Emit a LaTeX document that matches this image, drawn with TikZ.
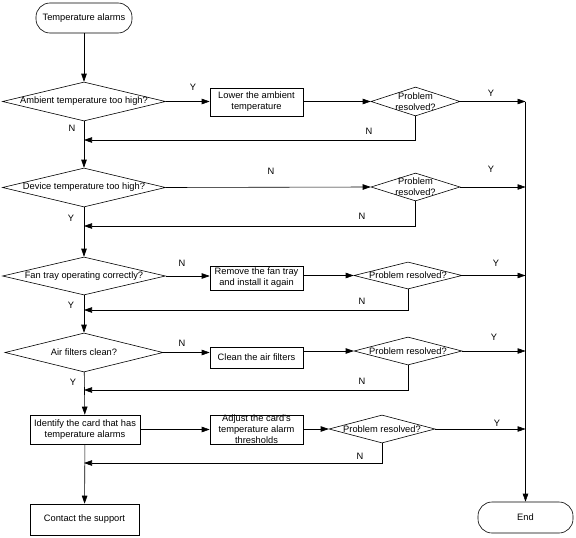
\documentclass[tikz,border=0pt]{standalone}
\usepackage{fontspec}
\setmainfont{Liberation Sans}
\usetikzlibrary{shapes.geometric,arrows.meta}
\newcommand{\zw}[1]{\makebox[0pt]{#1}}
\tikzset{
    box/.style={draw, rectangle, inner sep=1pt, align=center},
    term/.style={draw, rectangle, rounded corners=14pt},
    decide/.style={draw, diamond, inner sep=0pt, align=center},
    lbl/.style={inner sep=0pt},
}
\begin{document}
\begin{tikzpicture}[x=1pt, y=-1pt, line width=0.6pt,
        >={Triangle[length=8pt, width=5.5pt]},
        font=\fontsize{9.3}{11}\selectfont]
            \useasboundingbox (0, 0) rectangle (576, 538);
            % 左列
            \node (S) at (84, 18) [term, minimum width=96pt, minimum height=30pt] {Temperature alarms};
            \node (D1) at (84, 101.5) [decide, minimum width=163pt, minimum height=39pt] {\zw{Ambient temperature too high?}};
            \node (D2) at (84, 187.5) [decide, minimum width=163pt, minimum height=39pt] {\zw{Device temperature too high?}};
            \node (D3) at (84, 276) [decide, minimum width=163pt, minimum height=38pt] {\zw{Fan tray operating correctly?}};
            \node (D4) at (84, 352.5) [decide, minimum width=158pt, minimum height=39pt] {\zw{Air filters clean?}};
            \node (I) at (85, 429.5) [box, minimum width=110pt, minimum height=29pt] {Identify the card that has\\temperature alarms};
            \node (C) at (84.5, 519.5) [box, minimum width=109pt, minimum height=31pt] {Contact the support};
            % 中列
            \node (A1) at (256.5, 102) [box, minimum width=93pt, minimum height=28pt] {Lower the ambient\\temperature};
            \node (A3) at (256.5, 278) [box, minimum width=93pt, minimum height=24pt] {Remove the fan tray\\and install it again};
            \node (A4) at (256.5, 357.5) [box, minimum width=93pt, minimum height=21pt] {Clean the air filters};
            \node (A5) at (256.5, 429.5) [box, inner ysep=0pt, minimum width=93pt, minimum height=29pt] {Adjust the card's\\temperature alarm\\thresholds};
            % 右列
            \node (P1) at (415.5, 101.5) [decide, minimum width=89pt, minimum height=29pt] {\zw{Problem}\\\zw{resolved?}};
            \node (P2) at (415.5, 187) [decide, minimum width=89pt, minimum height=28pt] {\zw{Problem}\\\zw{resolved?}};
            \node (P3) at (408, 275.5) [decide, minimum width=108pt, minimum height=27pt] {\zw{Problem resolved?}};
            \node (P4) at (408, 351) [decide, minimum width=108pt, minimum height=28pt] {\zw{Problem resolved?}};
            \node (P5) at (382, 429) [decide, minimum width=106pt, minimum height=28pt] {\zw{Problem resolved?}};
            \node (E) at (525.5, 517.5) [term, minimum width=95pt, minimum height=31pt] {End};
            % 回到主线的点
            \coordinate (N1) at (84, 140);
            \coordinate (N2) at (84, 226);
            \coordinate (N3) at (84, 310);
            \coordinate (N4) at (84, 390);
            \coordinate (N5) at (84, 463);
            % 主线
            \draw[->] (S) -- (D1);
            \draw[->] (D1) -- (D2);
            \draw[->] (D2) -- (D3);
            \draw[->] (D3) -- (D4);
            \draw[->] (D4) -- (I);
            \draw[->] (I) -- (C);
            % 各行
            \draw[->] (D1.east) -- (A1.west |- D1.east);
            \draw[->] (A1.east |- P1.west) -- (P1.west);
            \draw[->] (D2.east) -- (P2.west);
            \draw[->] (D3.east) -- (A3.west |- D3.east);
            \draw[->] (A3.east |- P3.west) -- (P3.west);
            \draw[->] (D4.east) -- (A4.west |- D4.east);
            \draw[->] (A4.east |- P4.west) -- (P4.west);
            \draw[->] (I) -- (A5);
            \draw[->] (A5.east |- P5.west) -- (P5.west);
            % Y 到右侧
            \draw[->] (P1.east) -- (P1.east -| E.north);
            \draw[->] (P2.east) -- (P2.east -| E.north);
            \draw[->] (P3.east) -- (P3.east -| E.north);
            \draw[->] (P4.east) -- (P4.east -| E.north);
            \draw[->] (P5.east) -- (P5.east -| E.north);
            \draw[->] (P1.east -| E.north) -- (E.north);
            % N 回到主线
            \draw[->] (P1.south) |- (N1);
            \draw[->] (P2.south) |- (N2);
            \draw[->] (P3.south) |- (N3);
            \draw[->] (P4.south) |- (N4);
            \draw[->] (P5.south) |- (N5);
            % 标注
            \node (L1) at (193, 87) [lbl] {Y};
            \node (L2) at (72, 128) [lbl] {N};
            \node (L3) at (491, 93) [lbl] {Y};
            \node (L4) at (369, 131) [lbl] {N};
            \node (L5) at (271, 171) [lbl] {N};
            \node (L6) at (491, 169) [lbl] {Y};
            \node (L7) at (362, 216) [lbl] {N};
            \node (L8) at (71, 218) [lbl] {Y};
            \node (L9) at (182, 263) [lbl] {N};
            \node (L10) at (496, 263) [lbl] {Y};
            \node (L11) at (362, 301) [lbl] {N};
            \node (L12) at (71, 305) [lbl] {Y};
            \node (L13) at (182, 343) [lbl] {N};
            \node (L14) at (494, 337) [lbl] {Y};
            \node (L15) at (362, 381) [lbl] {N};
            \node (L16) at (73, 382) [lbl] {Y};
            \node (L17) at (497, 423) [lbl] {Y};
            \node (L18) at (360, 456) [lbl] {N};
\end{tikzpicture}
\end{document}
